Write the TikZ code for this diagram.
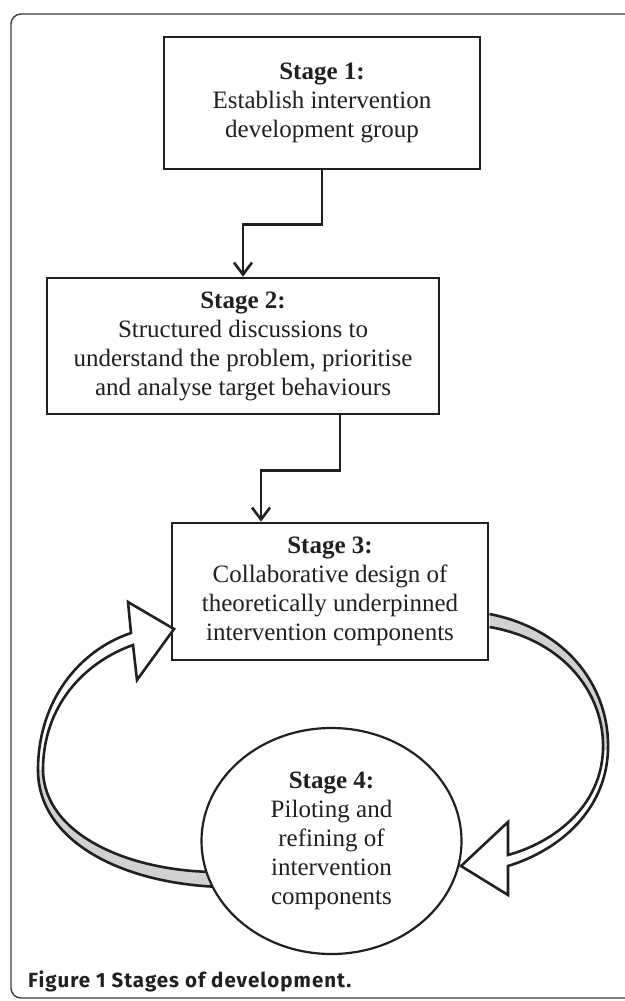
\documentclass[tikz,border=0pt]{standalone}
\usepackage{fontspec}
\setmainfont{Liberation Serif}
\newfontfamily\capfont[LetterSpace=5.0]{Fira Sans}
\usetikzlibrary{arrows.meta,shapes.geometric}
\definecolor{ink}{RGB}{35,31,32}
\definecolor{bandgray}{RGB}{208,209,211}
\definecolor{framegray}{RGB}{60,60,60}
\begin{document}
\begin{tikzpicture}[x=1pt,y=-1pt,
  stagebox/.style={draw=ink, line width=2.6pt, fill=white, align=center, inner sep=0pt,
    font=\fontsize{25}{29}\selectfont, text=ink},
  stageoval/.style={ellipse, draw=ink, line width=2.2pt, fill=white, align=center, inner sep=0pt,
    font=\fontsize{25}{29}\selectfont, text=ink},
  flow/.style={draw=ink, line width=2.6pt, -{Straight Barb[length=12pt,width=18pt]}},
  bigarrow/.style={draw=ink, line width=2.6pt, line join=miter, miter limit=4},
  captext/.style={anchor=base west, inner sep=0pt, text=ink},
]
\useasboundingbox (0,0) rectangle (624,1001);
% outer frame
\draw[framegray, line width=1.4pt, rounded corners=10pt] (640,14) -- (11,14) -- (11,998) -- (640,998);

\node[stagebox, minimum width=316pt, minimum height=132pt] (s1) at (322,103)
  {\textbf{Stage 1:}\\Establish intervention\\development group};
\node[stagebox, minimum width=392pt, minimum height=136pt] (s2) at (243,346)
  {\textbf{Stage 2:}\\Structured discussions to\\understand the problem, prioritise\\and analyse target behaviours};
\node[stagebox, minimum width=316pt, minimum height=137pt] (s3) at (330,591.5)
  {\textbf{Stage 3:}\\Collaborative design of\\theoretically underpinned\\intervention components};

\draw[flow] (s1.south) -- ++(0,54) -| (s2.north);
\draw[flow] ([xshift=97pt]s2.south) -- ++(0,55) -| ([xshift=-69pt]s3.north);

% right curved block arrow (Stage 3 -> Stage 4)
\fill[white] (489.5,614) .. controls (570,630) and (610,690) .. (608,750)
  .. controls (606,810) and (560,850) .. (508,866) -- (508,895) -- (461,866) -- (508,822) -- (508,855)
  .. controls (555,842) and (601,806) .. (603,750) .. controls (605,695) and (565,640) .. (489.5,627) -- cycle;
\fill[bandgray] (489.5,614) .. controls (570,630) and (610,690) .. (608,750) -- (603,750)
  .. controls (605,695) and (565,640) .. (489.5,627) -- cycle;
\draw[bigarrow] (489.5,614) .. controls (570,630) and (610,690) .. (608,750)
  .. controls (606,810) and (560,850) .. (508,866) -- (508,895) -- (461,866) -- (508,822) -- (508,855)
  .. controls (555,842) and (601,806) .. (603,750) .. controls (605,695) and (565,640) .. (489.5,627);

% left curved block arrow (Stage 4 -> Stage 3)
\fill[white] (222,887) .. controls (120,884) and (38,840) .. (38,770)
  .. controls (38,700) and (80,650) .. (131,633) -- (128,602) -- (174,629) -- (137,680) -- (133,645)
  .. controls (85,662) and (43,705) .. (43,770) .. controls (44,835) and (130,872) .. (218,872) -- cycle;
\fill[bandgray] (222,887) .. controls (120,884) and (38,840) .. (38,770) -- (43,770)
  .. controls (44,835) and (130,872) .. (218,872) -- cycle;
\draw[bigarrow] (222,887) .. controls (120,884) and (38,840) .. (38,770)
  .. controls (38,700) and (80,650) .. (131,633) -- (128,602) -- (174,629) -- (137,680) -- (133,645)
  .. controls (85,662) and (43,705) .. (43,770) .. controls (44,835) and (130,872) .. (218,872);

\node[stageoval, minimum width=260pt, minimum height=226pt] (s4) at (331.5,841)
  {\textbf{Stage 4:}\\Piloting and\\refining of\\intervention\\components};

\node[captext] (cap) at (28,987) {\capfont\bfseries\fontsize{20.5}{24}\selectfont Figure 1 Stages of development.};
\end{tikzpicture}
\end{document}
